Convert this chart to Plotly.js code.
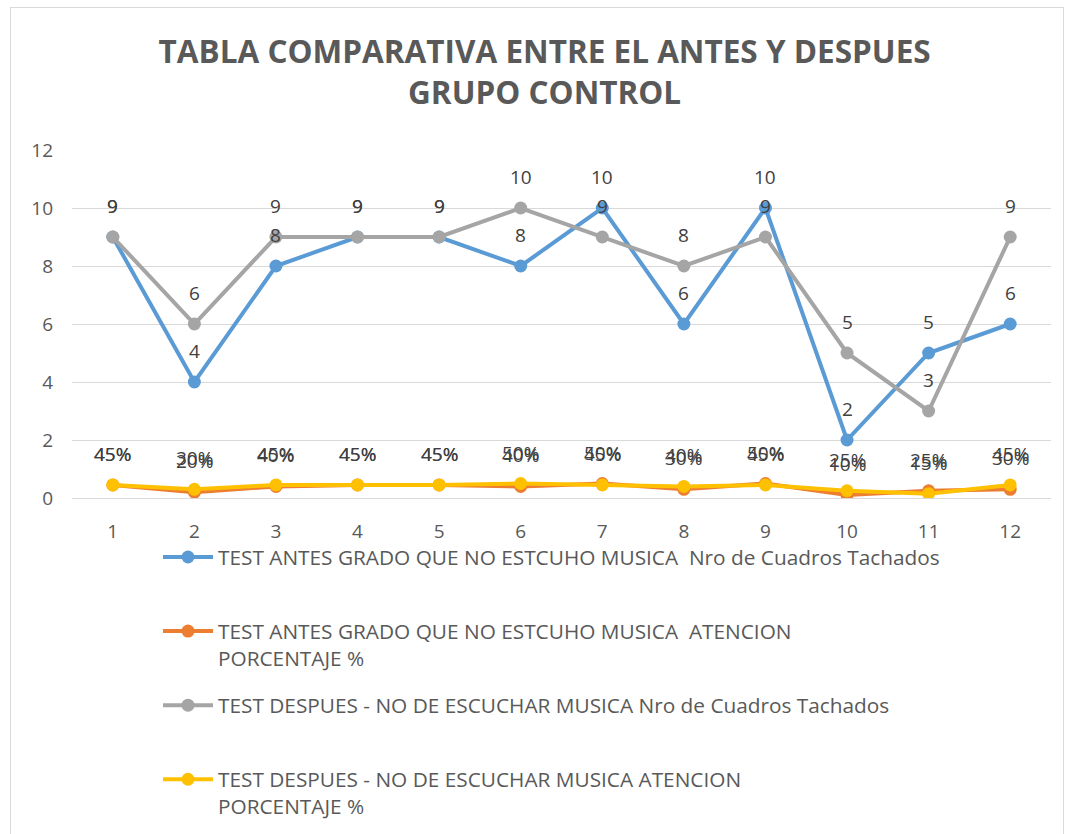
<!DOCTYPE html>
<html><head><meta charset="utf-8">
<script src="https://cdn.plot.ly/plotly-3.0.1.min.js"></script>
<style>
body{margin:0;background:#fff;overflow:hidden}
#chart{position:absolute;left:0;top:0;width:1070px;height:834px}
#frame{position:absolute;left:10px;top:7px;width:1054px;height:840px;border:1px solid #d9d9d9;box-sizing:border-box;pointer-events:none}
</style>
</head><body>
<div id="chart"></div><div id="frame"></div>
<script>
const categories = [1,2,3,4,5,6,7,8,9,10,11,12];
const antesCuadros = [9,4,8,9,9,8,10,6,10,2,5,6];
const antesAtencion = [0.45,0.20,0.40,0.45,0.45,0.40,0.50,0.30,0.50,0.10,0.25,0.30];
const despuesCuadros = [9,6,9,9,9,10,9,8,9,5,3,9];
const despuesAtencion = [0.45,0.30,0.45,0.45,0.45,0.50,0.45,0.40,0.45,0.25,0.15,0.45];
const seriesNames = [
  "TEST ANTES GRADO QUE NO ESTCUHO MUSICA  Nro de Cuadros Tachados<br> ",
  "TEST ANTES GRADO QUE NO ESTCUHO MUSICA  ATENCION<br>PORCENTAJE %",
  "TEST DESPUES - NO DE ESCUCHAR MUSICA Nro de Cuadros Tachados<br> ",
  "TEST DESPUES - NO DE ESCUCHAR MUSICA ATENCION<br>PORCENTAJE %"
];
const seriesColors = ["#5B9BD5","#ED7D31","#A5A5A5","#FFC000"];
const titleText = "TABLA COMPARATIVA ENTRE EL ANTES Y DESPUES<br>GRUPO CONTROL";

const FONT = "'Open Sans', sans-serif";
const allSeries = [antesCuadros, antesAtencion, despuesCuadros, despuesAtencion];
const isPct = [false, true, false, true];

const traces = allSeries.map((vals, k) => ({
  type: 'scatter', mode: 'lines+markers',
  x: categories, y: vals, name: seriesNames[k],
  legendgroup: 'g' + k,
  line: {color: seriesColors[k], width: 4},
  marker: {color: seriesColors[k], size: 13},
  hoverinfo: 'skip'
}));

const annotations = [];
allSeries.forEach((vals, k) => {
  vals.forEach((v, i) => {
    annotations.push({
      x: categories[i], y: v, xref: 'x', yref: 'y',
      text: isPct[k] ? Math.round(v * 100) + '%' : String(v),
      showarrow: false, yshift: 31,
      font: {family: FONT, size: 19, color: '#404040'}
    });
  });
});

const layout = {
  width: 1070, height: 834,
  paper_bgcolor: 'rgba(0,0,0,0)', plot_bgcolor: 'rgba(0,0,0,0)',
  margin: {l: 72, r: 19, t: 150, b: 336, autoexpand: false},
  font: {family: FONT, color: '#595959'},
  title: {
    text: titleText, xref: 'container', x: 0.509, xanchor: 'center',
    yref: 'container', y: 1 - 63/834, yanchor: 'top',
    font: {family: FONT, size: 31.5, color: '#595959', weight: 'bold'},
    pad: {t: 0, b: 0}
  },
  xaxis: {
    range: [0.5, 12.5], tickvals: categories, ticktext: categories.map(String),
    showgrid: false, zeroline: false, showline: true, linecolor: '#d9d9d9', linewidth: 1,
    ticks: '', ticklabelstandoff: 16,
    tickfont: {family: FONT, size: 19, color: '#595959'}, fixedrange: true
  },
  yaxis: {
    range: [0, 12], tickvals: [0,2,4,6,8,10,12],
    showgrid: true, gridcolor: '#d9d9d9', gridwidth: 1, zeroline: false, showline: false,
    ticks: '', ticklabelstandoff: 18,
    tickfont: {family: FONT, size: 19, color: '#595959'}, fixedrange: true
  },
  showlegend: true,
  legend: {
    orientation: 'v', x: (158 - 72) / 979, xanchor: 'left',
    y: -(537 - 498) / 348, yanchor: 'top',
    valign: 'top', traceorder: 'grouped', tracegroupgap: 17,
    font: {family: FONT, size: 20.8, color: '#595959'},
    bgcolor: 'rgba(0,0,0,0)', itemwidth: 50
  },
  annotations: annotations
};

Plotly.newPlot('chart', traces, layout, {displayModeBar: false, staticPlot: true});
</script>
</body></html>
